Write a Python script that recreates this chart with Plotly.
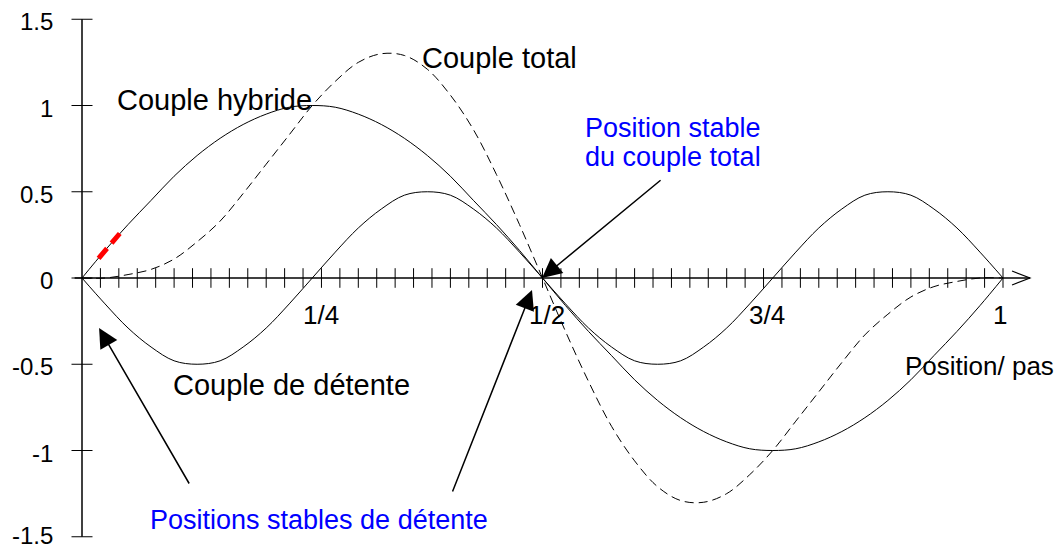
import plotly.graph_objects as go

# position / pas, read every 1/40 step
position = [i / 40 for i in range(41)]

couple_hybride = [0.00, 0.16, 0.31, 0.45, 0.59, 0.71, 0.81, 0.89, 0.95, 0.99,
                  1.00, 0.99, 0.95, 0.89, 0.81, 0.71, 0.59, 0.45, 0.31, 0.16,
                  0.00, -0.16, -0.31, -0.45, -0.59, -0.71, -0.81, -0.89, -0.95, -0.99,
                  -1.00, -0.99, -0.95, -0.89, -0.81, -0.71, -0.59, -0.45, -0.31, -0.16,
                  0.00]

couple_detente = [0.00, -0.15, -0.29, -0.40, -0.48, -0.50, -0.48, -0.40, -0.29, -0.15,
                  0.00, 0.15, 0.29, 0.40, 0.48, 0.50, 0.48, 0.40, 0.29, 0.15,
                  0.00, -0.15, -0.29, -0.40, -0.48, -0.50, -0.48, -0.40, -0.29, -0.15,
                  0.00, 0.15, 0.29, 0.40, 0.48, 0.50, 0.48, 0.40, 0.29, 0.15,
                  0.00]

couple_total = [0.00, 0.00, 0.02, 0.05, 0.11, 0.21, 0.33, 0.49, 0.66, 0.83,
                1.00, 1.14, 1.25, 1.30, 1.29, 1.21, 1.06, 0.86, 0.60, 0.31,
                0.00, -0.31, -0.60, -0.86, -1.06, -1.21, -1.29, -1.30, -1.25, -1.14,
                -1.00, -0.83, -0.66, -0.49, -0.33, -0.21, -0.11, -0.05, -0.02, 0.00,
                0.00]

# red highlighted bit on the hybrid curve
red_x = [0.018, 0.041]
red_y = [0.114, 0.258]

# axis ticks
x_minor = [i / 50 for i in range(1, 51)]
y_ticks = [-1.5, -1, -0.5, 0, 0.5, 1, 1.5]
y_tick_text = ["-1.5", "-1", "-0.5", "0", "0.5", "1", "1.5"]
x_tick_pos = [0.2595, 0.505, 0.7438, 0.9967]
x_tick_text = ["1/4", "1/2", "3/4", "1"]

FONT = "Arial, Liberation Sans, sans-serif"
BLUE = "#0000ff"

fig = go.Figure()

fig.add_trace(go.Scatter(x=position, y=couple_hybride, mode="lines",
                         line=dict(color="black", width=1, shape="spline")))
fig.add_trace(go.Scatter(x=position, y=couple_detente, mode="lines",
                         line=dict(color="black", width=1, shape="spline")))
fig.add_trace(go.Scatter(x=position, y=couple_total, mode="lines",
                         line=dict(color="black", width=1, shape="spline", dash="9px,5px")))
fig.add_trace(go.Scatter(x=red_x, y=red_y, mode="lines",
                         line=dict(color="red", width=5, dash="13px,7px")))

# axes drawn by hand (cross at origin)
fig.add_shape(type="line", x0=0, x1=0, y0=-1.5, y1=1.5, line=dict(color="black", width=1.5))
fig.add_shape(type="line", x0=-0.008, x1=1.0293, y0=0, y1=0, line=dict(color="black", width=1.5))
fig.add_shape(type="path", path="M 1.0098,0.0406 L 1.0293,0 L 1.0098,-0.0406",
              line=dict(color="black", width=1.2))

fig.add_trace(go.Scatter(x=x_minor, y=[0] * len(x_minor), mode="markers",
                         marker=dict(symbol="line-ns", size=14,
                                     line=dict(color="black", width=1))))
fig.add_trace(go.Scatter(x=[0] * len(y_ticks), y=y_ticks, mode="markers",
                         marker=dict(symbol="line-ew", size=15,
                                     line=dict(color="black", width=1))))

annotations = []
for v, t in zip(y_ticks, y_tick_text):
    annotations.append(dict(x=-0.029, y=max(v - 0.015, -1.49), text=t, showarrow=False,
                            xanchor="right", yanchor="middle",
                            font=dict(size=24, color="black", family=FONT)))
for v, t in zip(x_tick_pos, x_tick_text):
    annotations.append(dict(x=v, y=-0.215, text=t, showarrow=False,
                            font=dict(size=26, color="black", family=FONT)))

labels = [
    ("Couple hybride", 0.1444, 1.032, "black", 29, "center"),
    ("Couple total", 0.4528, 1.275, "black", 29, "center"),
    ("Position stable", 0.6417, 0.8696, BLUE, 27, "center"),
    ("du couple total", 0.6417, 0.7014, BLUE, 27, "center"),
    ("Couple de détente", 0.228, -0.620, "black", 29, "center"),
    ("Position/ pas", 1.0575, -0.510, "black", 26, "right"),
    ("Positions stables de détente", 0.2573, -1.403, BLUE, 27, "center"),
]
for t, x, y, c, s, anc in labels:
    annotations.append(dict(x=x, y=y, text=t, showarrow=False, xanchor=anc,
                            font=dict(size=s, color=c, family=FONT)))

arrows = [
    (0.6298, 0.574, 0.4995, 0.0),
    (0.1173, -1.20, 0.0185, -0.29),
    (0.4017, -1.246, 0.4886, -0.07),
]
for ax, ay, x, y in arrows:
    annotations.append(dict(x=x, y=y, ax=ax, ay=ay, axref="x", ayref="y",
                            xref="x", yref="y", text="", showarrow=True,
                            arrowhead=2, arrowsize=2.6, arrowwidth=1.5,
                            arrowcolor="black"))

fig.update_layout(
    width=1057, height=548,
    margin=dict(l=0, r=0, t=0, b=0),
    paper_bgcolor="white", plot_bgcolor="white",
    showlegend=False,
    xaxis=dict(range=[-0.08903, 1.05863], visible=False),
    yaxis=dict(range=[-1.5652, 1.6116], visible=False),
    annotations=annotations,
)

fig.write_html("out.html", config={"displayModeBar": False},
               post_script="document.body.style.margin='0';document.body.style.overflow='hidden';")
